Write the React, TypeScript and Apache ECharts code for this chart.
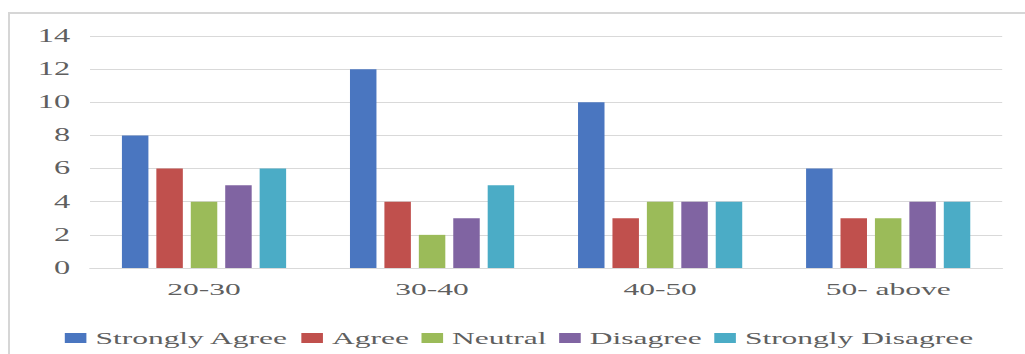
import React, { useEffect, useRef } from "react";
import * as echarts from "echarts";

const categories = ["20-30", "30-40", "40-50", "50- above"];
const seriesNames = ["Strongly Agree", "Agree", "Neutral", "Disagree", "Strongly Disagree"];
const stronglyAgree = [8, 12, 10, 6];
const agree = [6, 4, 3, 3];
const neutral = [4, 2, 4, 3];
const disagree = [5, 3, 4, 4];
const stronglyDisagree = [6, 5, 4, 4];
const colors = ["#4A76C0", "#C0504D", "#9BBB59", "#8064A2", "#4BACC6"];
const yTicks = [0, 2, 4, 6, 8, 10, 12, 14];

const STRETCH = 1.8;
const W = 1025;
const H = 354;

export default function App() {
  const ref = useRef<HTMLDivElement>(null);
  useEffect(() => {
    if (!ref.current) return;
    const chart = echarts.init(ref.current, null, { renderer: "svg" });
    const values = [stronglyAgree, agree, neutral, disagree, stronglyDisagree];
    const font = "'Liberation Serif', 'DejaVu Serif', serif";
    chart.setOption({
      animation: false,
      color: colors,
      grid: { left: 90 / STRETCH, right: (W - 1003) / STRETCH, top: 36, bottom: H - 268, containLabel: false },
      legend: {
        data: seriesNames,
        top: 324,
        left: 31,
        itemWidth: 12,
        itemHeight: 10,
        itemGap: 7,
        icon: "rect",
        textStyle: { fontFamily: font, fontSize: 17.5, color: "#5f5f5f" },
      },
      xAxis: {
        type: "category",
        data: categories,
        axisLine: { show: true, lineStyle: { color: "#d9d9d9", width: 1 } },
        axisTick: { show: false },
        axisLabel: { fontFamily: font, fontSize: 17.5, color: "#5f5f5f", margin: 12 },
      },
      yAxis: {
        type: "value",
        min: yTicks[0],
        max: yTicks[yTicks.length - 1],
        interval: 2,
        axisLine: { show: false },
        axisTick: { show: false },
        splitLine: { lineStyle: { color: "#d9d9d9", width: 1 } },
        axisLabel: { fontFamily: font, fontSize: 18, color: "#5f5f5f", margin: 11 },
      },
      series: seriesNames.map((name, i) => ({
        name,
        type: "bar",
        data: values[i],
        barGap: "30%",
        barCategoryGap: "28%",
        itemStyle: { color: colors[i] },
      })),
    });
    return () => chart.dispose();
  }, []);
  return (
    <div style={{ position: "fixed", left: 0, top: 0, width: W, height: H, background: "#fff", overflow: "hidden" }}>
      <div
        style={{
          position: "absolute",
          left: 8,
          top: 12,
          width: W,
          height: H,
          borderTop: "2px solid #d6d6d6",
          borderLeft: "2px solid #d6d6d6",
          boxSizing: "border-box",
        }}
      />
      <div
        ref={ref}
        style={{
          position: "absolute",
          left: 0,
          top: 0,
          width: W / STRETCH,
          height: H,
          transform: `scaleX(${STRETCH})`,
          transformOrigin: "0 0",
        }}
      />
    </div>
  );
}
